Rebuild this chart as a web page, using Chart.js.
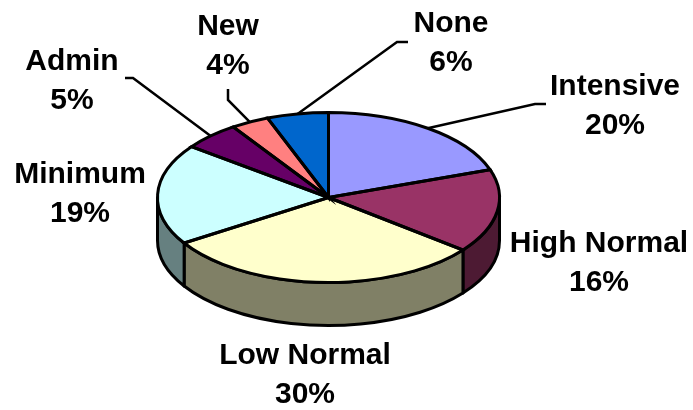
<!DOCTYPE html>
<html>
<head>
<meta charset="utf-8">
<style>
  html, body { margin: 0; padding: 0; background: #fff; }
  canvas { display: block; }
</style>
<script src="https://cdn.jsdelivr.net/npm/chart.js@4"></script>
</head>
<body>
<canvas id="chart" width="693" height="410"></canvas>
<script>
const categories = ["Intensive", "High Normal", "Low Normal", "Minimum", "Admin", "New", "None"];
const shares = [19.7, 15.9, 30.4, 19.2, 5.4, 3.6, 5.8];
const topColors = ["#9999FF", "#993366", "#FFFFCC", "#CCFFFF", "#660066", "#FF8080", "#0066CC"];
const sideColors = ["#4D4D80", "#4D1A33", "#808066", "#668080", "#330033", "#804040", "#003366"];

// label centres (x, first line y) and leader elbows, same order as categories
const labelX = [615, 599, 305, 80, 72, 228, 451];
const labelY = [87, 244, 356, 175, 62, 27, 24];
const leaderEnds = [[[535, 104], [546, 104]], null, null, null, [[133, 78], [125, 78]], [[228, 100], [228, 89]], [[397, 42], [408, 42]]];

const squash = 85 / 171; // tilt of the pie
const depth = 43;
const outline = 3;

function squashed(ctx, x, y, fn) {
	ctx.save();
	ctx.translate(x, y);
	ctx.scale(1, squash);
	ctx.translate(-x, -y);
	fn();
	ctx.restore();
}

const pie3d = {
	id: "pie3d",
	// side wall, only the front half of the pie shows it
	beforeDatasetsDraw(chart) {
		const ctx = chart.ctx;
		ctx.save();
		ctx.lineWidth = outline;
		ctx.strokeStyle = "#000";
		ctx.lineJoin = "round";
		chart.getDatasetMeta(0).data.forEach((arc, i) => {
			const p = arc.getProps(["x", "y", "startAngle", "endAngle", "outerRadius"], true);
			for (const shift of [0, Math.PI * 2]) {
				const a0 = Math.max(p.startAngle, shift);
				const a1 = Math.min(p.endAngle, shift + Math.PI);
				if (a1 <= a0) continue;
				const ry = p.outerRadius * squash;
				ctx.beginPath();
				ctx.ellipse(p.x, p.y, p.outerRadius, ry, 0, a0, a1);
				ctx.ellipse(p.x, p.y + depth, p.outerRadius, ry, 0, a1, a0, true);
				ctx.closePath();
				ctx.fillStyle = sideColors[i];
				ctx.fill();
				ctx.stroke();
			}
		});
		ctx.restore();
	},
	beforeDatasetDraw(chart) {
		const area = chart.chartArea;
		const cy = (area.top + area.bottom) / 2;
		const cx = (area.left + area.right) / 2;
		chart.ctx.save();
		chart.ctx.translate(cx, cy);
		chart.ctx.scale(1, squash);
		chart.ctx.translate(-cx, -cy);
	},
	afterDatasetDraw(chart) {
		chart.ctx.restore();
	},
	afterDatasetsDraw(chart) {
		const ctx = chart.ctx;
		const total = shares.reduce((a, b) => a + b, 0);
		ctx.save();
		ctx.lineWidth = outline;
		ctx.strokeStyle = "#000";
		ctx.lineJoin = "miter";
		const arcs = chart.getDatasetMeta(0).data;
		arcs.forEach((arc) => {
			const p = arc.getProps(["x", "y", "startAngle", "endAngle", "outerRadius"], true);
			squashed(ctx, p.x, p.y, () => {
				ctx.beginPath();
				ctx.moveTo(p.x, p.y);
				ctx.arc(p.x, p.y, p.outerRadius, p.startAngle, p.endAngle);
				ctx.closePath();
			});
			ctx.stroke();
		});
		// leader lines start at the middle of their slice
		ctx.lineWidth = 2.5;
		arcs.forEach((arc, i) => {
			if (!leaderEnds[i]) return;
			const p = arc.getProps(["x", "y", "startAngle", "endAngle", "outerRadius"], true);
			const mid = (p.startAngle + p.endAngle) / 2;
			ctx.beginPath();
			ctx.moveTo(p.x + Math.cos(mid) * p.outerRadius, p.y + Math.sin(mid) * p.outerRadius * squash);
			for (const pt of leaderEnds[i]) ctx.lineTo(pt[0], pt[1]);
			ctx.stroke();
		});
		ctx.fillStyle = "#000";
		ctx.font = "bold 30px 'Liberation Sans'";
		ctx.textAlign = "center";
		ctx.textBaseline = "middle";
		categories.forEach((name, i) => {
			ctx.fillText(name, labelX[i], labelY[i]);
			ctx.fillText(Math.round(shares[i] / total * 100) + "%", labelX[i], labelY[i] + 39);
		});
		ctx.restore();
	},
};

new Chart(document.getElementById("chart"), {
	type: "pie",
	data: {
		labels: categories,
		datasets: [{ data: shares, backgroundColor: topColors, borderWidth: 0 }],
	},
	options: {
		responsive: false,
		animation: false,
		layout: { padding: { left: 157.5, right: 193.5, top: 26.5, bottom: 41.5 } },
		plugins: { legend: { display: false }, tooltip: { enabled: false } },
	},
	plugins: [pie3d],
});
</script>
</body>
</html>
